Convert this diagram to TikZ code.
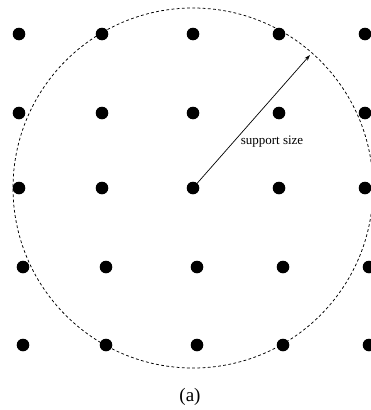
\documentclass[tikz,border=0pt]{standalone}
\usepackage{fontspec}
\setmainfont{Liberation Serif}
\usetikzlibrary{arrows.meta, positioning, calc}
\definecolor{cink}{HTML}{000000}
\tikzset{
  every picture/.style={x=1pt, y=-1pt, line width=0.5pt},
  sample/.style={circle, fill=cink, minimum size=12.6pt, inner sep=0pt},
  support/.style={draw=cink, line width=0.75pt, dash pattern=on 2.8pt off 2.4pt},
  radius arrow/.style={-{Stealth[length=6pt, width=4pt]}, draw=cink, line width=0.7pt},
  note/.style={font=\fontsize{13}{15}\selectfont, text=cink},
  caption/.style={font=\fontsize{19}{22}\selectfont, text=cink},
}

\begin{document}
\begin{tikzpicture}
  \useasboundingbox (0,0) rectangle (370,410);
  % grid of samples, last two rows sit a little to the right
  \foreach \r/\y/\dx in {1/34/0, 2/113/0, 3/188/0, 4/267/4, 5/345/4}
    \foreach \c/\x in {1/19, 2/102, 3/193, 4/279, 5/365}
      \node[sample] (s-\r-\c) at (\x+\dx,\y) {};
  \draw[support] (s-3-3.center) circle (180);
  \coordinate (rim) at (310,55);
  \draw[radius arrow] (s-3-3.center) -- (rim);
  \node[note] (size) at (272,142) {support size};
  \node[caption] (cap) at (190,397) {(a)};
\end{tikzpicture}
\end{document}
